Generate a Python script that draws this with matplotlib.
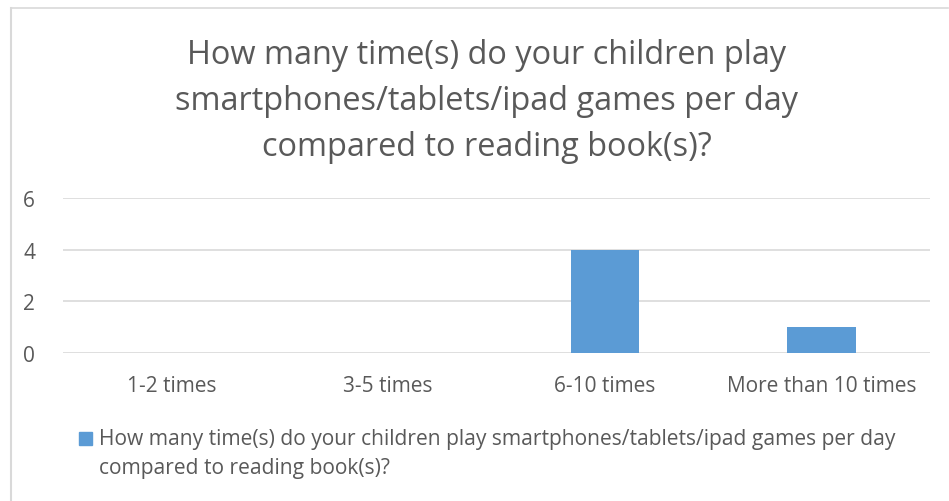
import matplotlib.pyplot as plt
from matplotlib.patches import Rectangle
import numpy as np

plt.rcParams['font.family'] = ['Open Sans', 'DejaVu Sans']

categories = ['1-2 times', '3-5 times', '6-10 times', 'More than 10 times']
counts = [0, 0, 4, 1]
yticks = [0, 2, 4, 6]
title = ('How many time(s) do your children play\n'
         'smartphones/tablets/ipad games per day\n'
         'compared to reading book(s)?')
series_name = ('How many time(s) do your children play smartphones/tablets/ipad games per day\n'
               'compared to reading book(s)?')

grey = '#595959'
bar_color = '#5B9BD5'
grid_color = '#D9D9D9'

W, H = 949, 502
fig = plt.figure(figsize=(W / 100, H / 100), dpi=100)

# chart frame (top and left edges only show)
fig.add_artist(plt.Line2D([11 / W, 948 / W], [1 - 9 / H, 1 - 9 / H], color=grid_color, lw=1.2))
fig.add_artist(plt.Line2D([11 / W, 11 / W], [0, 1 - 9 / H], color=grid_color, lw=1.5))

ax = fig.add_axes([63 / W, 1 - 354 / H, (930 - 63) / W, (354 - 199) / H])
x = np.arange(len(categories))
ax.bar(x, counts, width=0.315, color=bar_color, zorder=3, label=series_name)
ax.set_xlim(-0.5, len(categories) - 0.5)
ax.set_ylim(0, 6)
ax.set_yticks(yticks)
ax.set_xticks(x)
ax.set_xticklabels(categories)
for y in yticks:
    ax.axhline(y, color=grid_color, lw=1.2, zorder=1)
for s in ax.spines.values():
    s.set_visible(False)
ax.tick_params(length=0, colors=grey, labelsize=15)
ax.tick_params(axis='x', pad=16)
ax.tick_params(axis='y', pad=20)

fig.text(487 / W, 1 - 102 / H, title, ha='center', va='center', fontsize=23.4,
         color=grey, linespacing=1.52)

# legend
fig.add_artist(Rectangle((79 / W, 1 - 446 / H), 13 / W, 13 / H, color=bar_color,
                         transform=fig.transFigure))
fig.text(99 / W, 1 - 454 / H, series_name, ha='left', va='center', fontsize=15.1,
         color=grey, linespacing=1.45)

fig.savefig('out.png', dpi=100)
